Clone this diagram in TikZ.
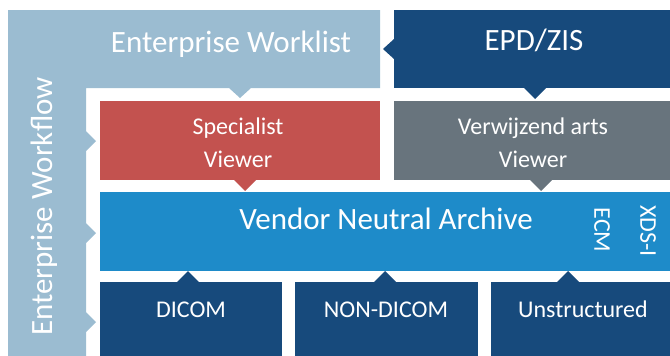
\documentclass[tikz,border=0pt]{standalone}
\usepackage{fontspec}
\setmainfont{Carlito}
\definecolor{flowblue}{HTML}{9BBCD1}
\definecolor{navyblue}{HTML}{174A7C}
\definecolor{viewred}{HTML}{C3524F}
\definecolor{viewgrey}{HTML}{68747D}
\definecolor{vnablue}{HTML}{1E8BC9}

\tikzset{box/.style={anchor=north west, inner sep=0pt, outer sep=0pt},
         bigtext/.style={text=white, font=\fontsize{31}{37}\selectfont},
         smalltext/.style={text=white, font=\fontsize{24}{33}\selectfont, align=center}}

\begin{document}
\begin{tikzpicture}[x=1pt, y=-1pt]
            \useasboundingbox (0,0) rectangle (670,356);
            \clip (0,0) rectangle (670,356);
            % workflow / worklist frame
            \fill[flowblue] (8,10) -- (380,10) -- (380,88) -- (251,88) -- (240,98) -- (229,88) -- (86,88)
                -- (86,131) -- (96,141) -- (86,151) -- (86,223) -- (96,233) -- (86,243)
                -- (86,312) -- (96,322) -- (86,332) -- (86,356) -- (8,356) -- cycle;
            \node[bigtext, anchor=base] (worklist) at (231,52) {Enterprise Worklist};
            \node[bigtext, anchor=base, rotate=90] (workflow) at (52,206.5) {Enterprise Workflow};
            % EPD
            \node[box, fill=navyblue, minimum width=276pt, minimum height=78pt] (epd) at (394,10) {};
            \fill[navyblue] ([yshift=10pt]epd.west) -- ([xshift=-11pt]epd.west) -- ([yshift=-10pt]epd.west) -- cycle;
            \fill[navyblue] ([xshift=-8pt]epd.south) -- ([xshift=3pt,yshift=-11pt]epd.south) -- ([xshift=14pt]epd.south) -- cycle;
            \node[bigtext, anchor=base] (epdtext) at (534,50) {EPD/ZIS};
            % viewers
            \node[box, fill=viewred, minimum width=280pt, minimum height=79pt] (spec) at (100,101) {};
            \fill[viewred] ([xshift=-6pt]spec.south) -- ([xshift=5pt,yshift=-11pt]spec.south) -- ([xshift=16pt]spec.south) -- cycle;
            \node[smalltext] (spectext) at (238,143) {Specialist\\Viewer};
            \node[box, fill=viewgrey, minimum width=276pt, minimum height=79pt] (verw) at (394,101) {};
            \fill[viewgrey] ([xshift=-2pt]verw.south) -- ([xshift=9pt,yshift=-11pt]verw.south) -- ([xshift=20pt]verw.south) -- cycle;
            \node[smalltext] (verwtext) at (533,143) {Verwijzend arts\\Viewer};
            % archive
            \node[box, fill=vnablue, minimum width=570pt, minimum height=79pt] (vna) at (100,192) {};
            \node[bigtext, anchor=base] (vnatext) at (386,229) {Vendor Neutral Archive};
            \node[smalltext, rotate=-90] (ecm) at (602,230) {ECM};
            \node[smalltext, rotate=-90] (xds) at (648,231) {XDS-I};
            % sources
            \node[box, fill=navyblue, minimum width=182pt, minimum height=74pt] (dicom) at (100,282) {};
            \node[box, fill=navyblue, minimum width=183pt, minimum height=74pt] (nondicom) at (295,282) {};
            \node[box, fill=navyblue, minimum width=179pt, minimum height=74pt] (unstr) at (491,282) {};
            \fill[navyblue] ([xshift=-14pt]dicom.north) -- ([xshift=-3pt,yshift=11pt]dicom.north) -- ([xshift=8pt]dicom.north) -- cycle;
            \fill[navyblue] ([xshift=-12.5pt]nondicom.north) -- ([xshift=-1.5pt,yshift=11pt]nondicom.north) -- ([xshift=9.5pt]nondicom.north) -- cycle;
            \fill[navyblue] ([xshift=-23.5pt]unstr.north) -- ([xshift=-12.5pt,yshift=11pt]unstr.north) -- ([xshift=-1.5pt]unstr.north) -- cycle;
            \node[smalltext, anchor=base] (dicomtext) at (191,317) {DICOM};
            \node[smalltext, anchor=base] (nondicomtext) at (386,317) {NON-DICOM};
            \node[smalltext, anchor=base] (unstrtext) at (583,317) {Unstructured};
        \end{tikzpicture}
\end{document}
